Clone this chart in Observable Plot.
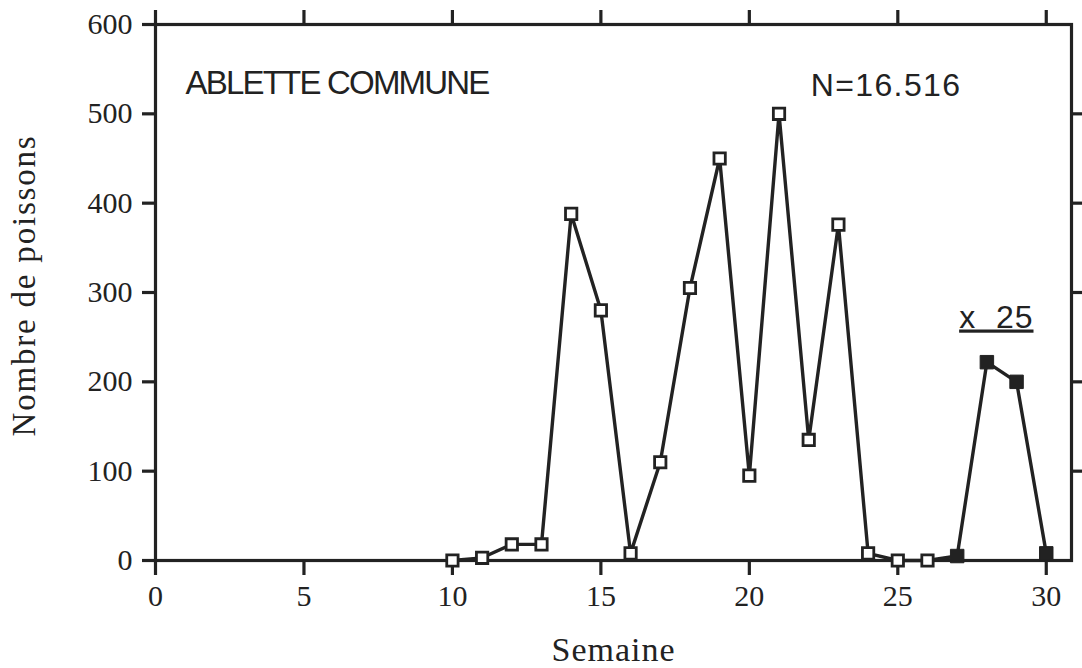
<!DOCTYPE html>
<html>
<head>
<meta charset="utf-8">
<script src="https://cdn.jsdelivr.net/npm/d3@7"></script>
<script src="https://cdn.jsdelivr.net/npm/@observablehq/plot@0.6"></script>
<style>
  html, body { margin: 0; padding: 0; background: #fff; }
  #chart svg { display: block; }
  g.title-text text { letter-spacing: -1.8px; }
  g.total-text text { letter-spacing: 1.4px; }
  g.xlabel-text text { letter-spacing: 1px; }
  g.ylabel-text text { letter-spacing: 1.8px; }
  g.underlined text { text-decoration: underline; white-space: pre; letter-spacing: 1px; }
</style>
</head>
<body>
<div id="chart"></div>
<script>
// Weeks drawn with open squares (raw counts)
const weeksOpen = [10, 11, 12, 13, 14, 15, 16, 17, 18, 19, 20, 21, 22, 23, 24, 25, 26];
const countsOpen = [0, 3, 18, 18, 388, 280, 8, 110, 305, 450, 95, 500, 135, 376, 8, 0, 0];
// Weeks drawn with filled squares (values multiplied by 25)
const weeksScaled = [27, 28, 29, 30];
const countsScaled = [5, 222, 200, 8];

const xTicks = [0, 5, 10, 15, 20, 25, 30];
const yTicks = [0, 100, 200, 300, 400, 500, 600];
const yTicksRight = [100, 200, 300, 400, 500];

const title = "ABLETTE COMMUNE";
const totalLabel = "N=16.516";
const scaleLabel = "x  25";
const xLabel = "Semaine";
const yLabel = "Nombre de poissons";

const openData = weeksOpen.map((w, i) => ({week: w, count: countsOpen[i]}));
const scaledData = weeksScaled.map((w, i) => ({week: w, count: countsScaled[i]}));
const allData = openData.concat(scaledData);

const serif = "'Liberation Serif', 'Times New Roman', serif";
const sans = "'Liberation Sans', Arial, Helvetica, sans-serif";

const chart = Plot.plot({
  width: 1082,
  height: 668,
  marginLeft: 155,
  marginRight: 11,
  marginTop: 24,
  marginBottom: 108,
  style: {background: "#fff", color: "#222", fontFamily: serif},
  x: {domain: [0, 30.85], axis: null},
  y: {domain: [0, 600], axis: null},
  marks: [
    Plot.frame({stroke: "#222", strokeWidth: 3.2}),
    Plot.axisX(xTicks, {anchor: "bottom", tickSize: 15, tickPadding: 9, fontSize: 30, fontFamily: serif, strokeWidth: 3.2, stroke: "#222", fill: "#222", label: null}),
    Plot.axisX(xTicks, {anchor: "top", tickSize: 15, tickFormat: () => "", strokeWidth: 3.2, stroke: "#222", label: null}),
    Plot.axisY(yTicks, {anchor: "left", tickSize: 13, tickPadding: 10, fontSize: 30, fontFamily: serif, strokeWidth: 3.2, stroke: "#222", fill: "#222", label: null}),
    Plot.axisY(yTicksRight, {anchor: "right", tickSize: 11, tickFormat: () => "", strokeWidth: 3.2, stroke: "#222", label: null}),
    Plot.line(allData, {x: "week", y: "count", stroke: "#222", strokeWidth: 3.4}),
    Plot.dot(openData, {x: "week", y: "count", symbol: "square", r: 6.4, fill: "#fff", stroke: "#222", strokeWidth: 2.8}),
    Plot.dot(scaledData, {x: "week", y: "count", symbol: "square", r: 7.6, fill: "#222", stroke: "#222", strokeWidth: 1}),
    Plot.text([title], {text: d => d, frameAnchor: "top-left", dx: 30, dy: 69, textAnchor: "start", lineAnchor: "bottom", fontSize: 33, fontFamily: sans, fill: "#222", className: "title-text"}),
    Plot.text([totalLabel], {text: d => d, frameAnchor: "top-right", dx: -110, dy: 71, textAnchor: "end", lineAnchor: "bottom", fontSize: 32, fontFamily: sans, fill: "#222", className: "total-text"}),
    Plot.text([scaleLabel], {text: d => d, frameAnchor: "top-right", dx: -38, dy: 303, textAnchor: "end", lineAnchor: "bottom", fontSize: 32, fontFamily: sans, fill: "#222", className: "underlined"}),
    Plot.text([xLabel], {text: d => d, frameAnchor: "bottom", dy: 100, textAnchor: "middle", lineAnchor: "bottom", fontSize: 34, fontFamily: serif, fill: "#222", className: "xlabel-text"}),
    Plot.text([yLabel], {text: d => d, frameAnchor: "left", dx: -131, dy: -7, rotate: -90, textAnchor: "middle", lineAnchor: "middle", fontSize: 33, fontFamily: serif, fill: "#222", className: "ylabel-text"})
  ]
});

document.getElementById("chart").appendChild(chart);
</script>
</body>
</html>
